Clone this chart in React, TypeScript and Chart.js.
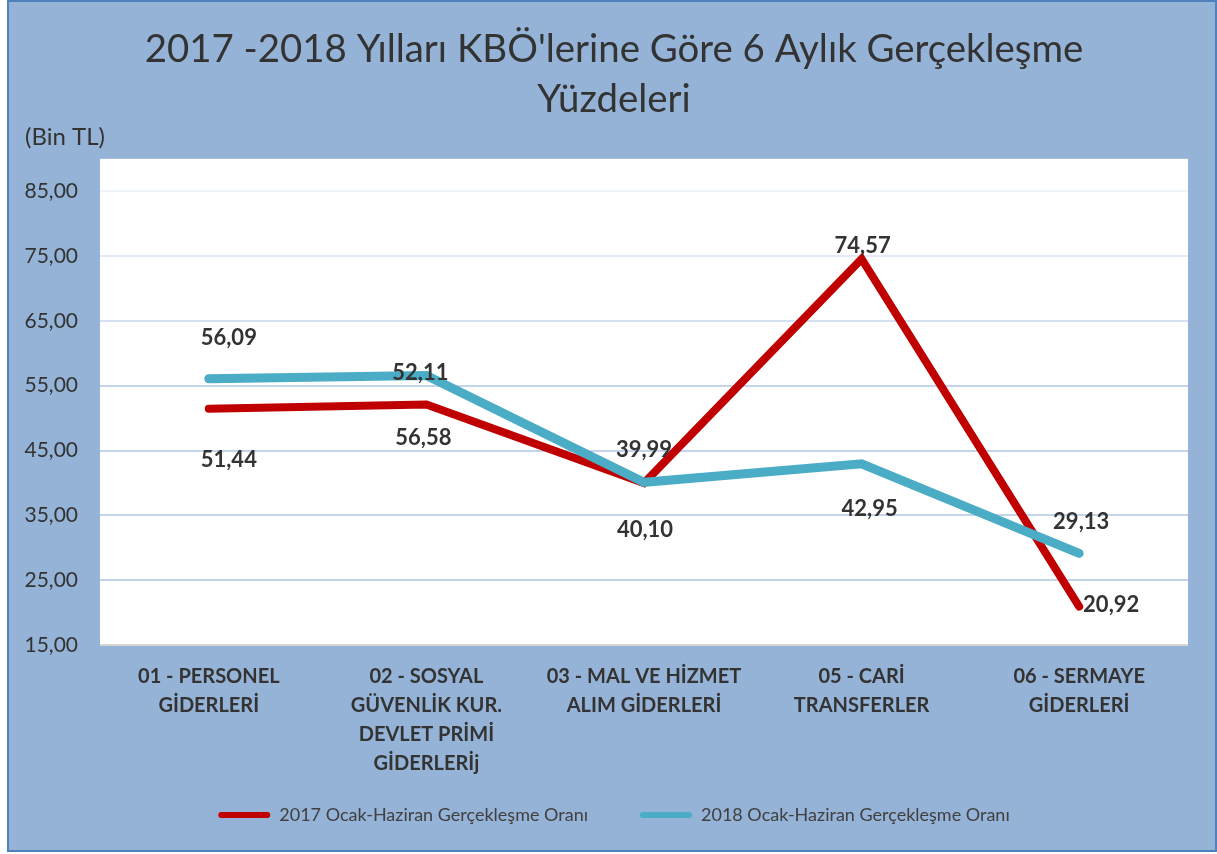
import React, { useEffect, useRef } from "react";
import { Chart, registerables } from "chart.js";

Chart.register(...registerables);

const categories: string[][] = [
  ["01 - PERSONEL", "GİDERLERİ"],
  ["02 - SOSYAL", "GÜVENLİK KUR.", "DEVLET PRİMİ", "GİDERLERİj"],
  ["03 - MAL VE HİZMET", "ALIM GİDERLERİ"],
  ["05 - CARİ", "TRANSFERLER"],
  ["06 - SERMAYE", "GİDERLERİ"],
];
const series2017 = [51.44, 52.11, 39.99, 74.57, 20.92];
const series2018 = [56.09, 56.58, 40.1, 42.95, 29.13];
const labels2017 = ["51,44", "52,11", "39,99", "74,57", "20,92"];
const labels2018 = ["56,09", "56,58", "40,10", "42,95", "29,13"];
const yTicks = [15, 25, 35, 45, 55, 65, 75, 85];
const seriesNames = [
  "2017 Ocak-Haziran Gerçekleşme Oranı",
  "2018 Ocak-Haziran Gerçekleşme Oranı",
];
const titleLines = ["2017 -2018 Yılları KBÖ'lerine Göre 6 Aylık Gerçekleşme", "Yüzdeleri"];
const unitLabel = "(Bin TL)";

// label text-centre offsets (px) relative to each point
const offsets2017: [number, number][] = [[20, 51], [-6, -32], [0, -33], [1, -13], [32, -2]];
const offsets2018: [number, number][] = [[20, -41], [-3, 62], [1, 48], [8, 45], [2, -32]];

const FONT = "Lato, 'Open Sans', sans-serif";
const BG = "#95B3D7";
const RED = "#C00000";
const CYAN = "#4BACC6";
const TEXT = "#333333";

const fmt = (v: number) => v.toFixed(2).replace(".", ",");

const framePlugin = {
  id: "frame",
  afterLayout(chart: any) {
    // let tick labels extend beyond their layout boxes without clipping
    chart.scales.x.bottom = chart.height;
    chart.scales.y.left = 0;
  },
  beforeDraw(chart: any) {
    const { ctx, chartArea } = chart;
    ctx.save();
    ctx.fillStyle = "#ffffff";
    ctx.fillRect(0, 0, chart.width, chart.height);
    ctx.fillStyle = BG;
    ctx.fillRect(7, 0, chart.width - 7, 852);
    ctx.strokeStyle = "#4F81BD";
    ctx.lineWidth = 2;
    ctx.strokeRect(8, 1, chart.width - 9, 850);
    ctx.fillStyle = "#ffffff";
    ctx.fillRect(chartArea.left, chartArea.top, chartArea.right - chartArea.left, chartArea.bottom - chartArea.top);
    ctx.fillStyle = TEXT;
    ctx.font = `24px ${FONT}`;
    ctx.textAlign = "left";
    ctx.textBaseline = "middle";
    ctx.fillText(unitLabel, 25, 137);
    ctx.restore();
  },
};

const labelPlugin = {
  id: "pointLabels",
  afterDatasetsDraw(chart: any) {
    const { ctx } = chart;
    const sets = [
      { idx: 0, texts: labels2017, off: offsets2017 },
      { idx: 1, texts: labels2018, off: offsets2018 },
    ];
    ctx.save();
    ctx.font = `bold 22px ${FONT}`;
    ctx.fillStyle = TEXT;
    ctx.textAlign = "center";
    ctx.textBaseline = "middle";
    sets.forEach((s) => {
      const meta = chart.getDatasetMeta(s.idx);
      meta.data.forEach((pt: any, i: number) => {
        ctx.fillText(s.texts[i], pt.x + s.off[i][0], pt.y + s.off[i][1]);
      });
    });
    ctx.restore();
  },
};

const gridColor = (v: number) => {
  if (v >= 85) return "#EEF3FA";
  if (v >= 75) return "#E2EAF5";
  if (v >= 65) return "#D5E1F0";
  if (v <= 15) return "#D4D4D4";
  return "#C4D5EB";
};

export default function App() {
  const ref = useRef<HTMLCanvasElement>(null);
  useEffect(() => {
    document.body.style.margin = "0";
    const chart = new Chart(ref.current!, {
      type: "line",
      data: {
        labels: categories,
        datasets: [
          {
            label: seriesNames[0],
            data: series2017,
            borderColor: RED,
            backgroundColor: RED,
            borderWidth: 8,
            borderCapStyle: "round",
            borderJoinStyle: "miter",
            pointRadius: 0,
            tension: 0,
            order: 1,
          },
          {
            label: seriesNames[1],
            data: series2018,
            borderColor: CYAN,
            backgroundColor: CYAN,
            borderWidth: 9,
            borderCapStyle: "round",
            borderJoinStyle: "miter",
            pointRadius: 0,
            tension: 0,
            order: 0,
          },
        ],
      },
      options: {
        responsive: false,
        animation: false,
        layout: { padding: { left: 40, right: 29, top: 0, bottom: 20 } },
        plugins: {
          title: {
            display: true,
            text: titleLines,
            color: TEXT,
            font: { family: FONT, size: 38.4, weight: "normal", lineHeight: 1.3 },
            padding: { top: 25, bottom: 34 },
          },
          legend: {
            position: "bottom",
            labels: {
              sort: (a: any, b: any) => a.datasetIndex - b.datasetIndex,
              boxWidth: 52,
              boxHeight: 6,
              useBorderRadius: true,
              borderRadius: 3,
              padding: 52,
              color: "#404040",
              font: { family: FONT, size: 18 },
              generateLabels: (c: any) =>
                c.data.datasets.map((d: any, i: number) => ({
                  text: d.label,
                  fillStyle: d.borderColor,
                  strokeStyle: d.borderColor,
                  lineWidth: 0,
                  fontColor: "#404040",
                  datasetIndex: i,
                  borderRadius: 3,
                })),
            },
          },
          tooltip: { enabled: false },
        },
        scales: {
          x: {
            offset: true,
            grid: { display: false, drawTicks: false },
            border: { display: false },
            ticks: {
              color: TEXT,
              font: { family: FONT, size: 20, weight: "bold", lineHeight: 1.45 },
              padding: 17,
              maxRotation: 0,
              autoSkip: false,
            },
            afterFit: (s: any) => {
              s.height = 109;
            },
          },
          y: {
            min: 15,
            max: 90,
            afterBuildTicks: (s: any) => {
              s.ticks = yTicks.map((v) => ({ value: v }));
            },
            grid: {
              drawTicks: false,
              lineWidth: 2,
              color: (c: any) => gridColor(c.tick ? c.tick.value : 0),
            },
            border: { display: false },
            ticks: {
              color: TEXT,
              font: { family: FONT, size: 21 },
              padding: 22,
              callback: (v: any) => fmt(Number(v)),
            },
            afterFit: (s: any) => {
              s.width = 60;
            },
          },
        },
      },
      plugins: [framePlugin, labelPlugin],
    });
    return () => chart.destroy();
  }, []);
  return (
    <div style={{ width: 1217, height: 854 }}>
      <canvas ref={ref} width={1217} height={854} />
    </div>
  );
}
